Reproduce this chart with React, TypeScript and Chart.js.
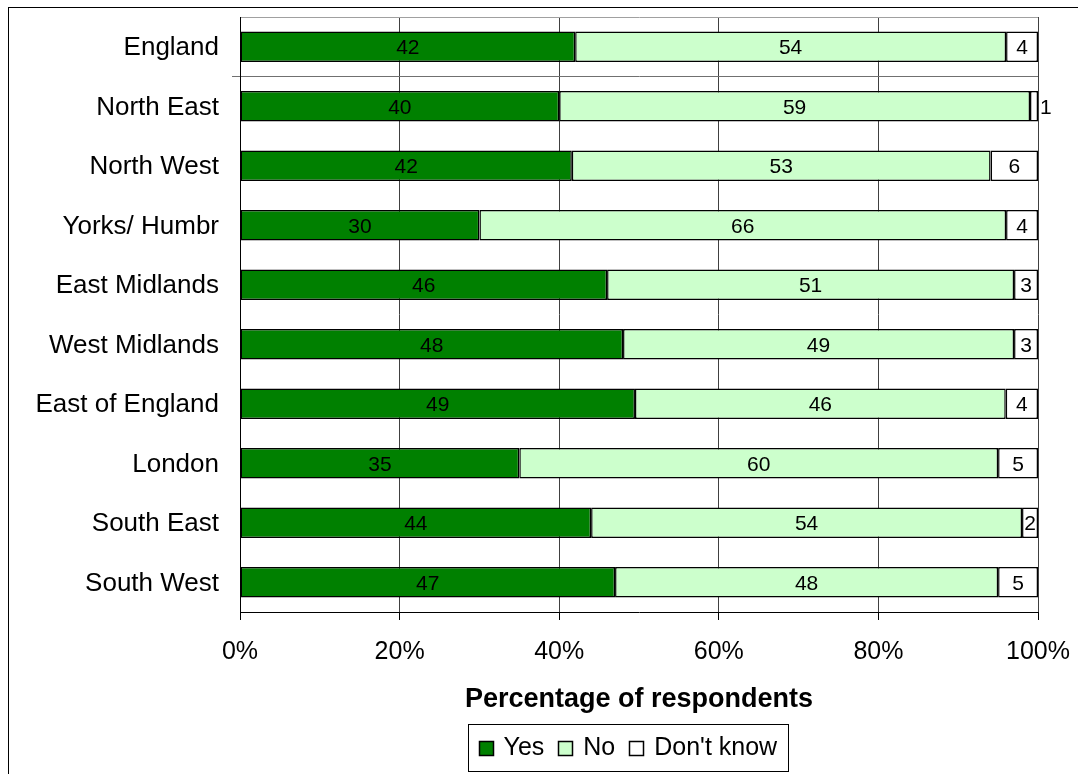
import React, { useEffect, useRef } from "react";
import { Chart, registerables } from "chart.js";

Chart.register(...registerables);

// Survey answers by region (raw percentages as reported)
const regions = [
  "England",
  "North East",
  "North West",
  "Yorks/ Humbr",
  "East Midlands",
  "West Midlands",
  "East of England",
  "London",
  "South East",
  "South West",
];
const yesValues = [42, 40, 42, 30, 46, 48, 49, 35, 44, 47];
const noValues = [54, 59, 53, 66, 51, 49, 46, 60, 54, 48];
const dontKnowValues = [4, 1, 6, 4, 3, 3, 4, 5, 2, 5];

const seriesNames = ["Yes", "No", "Don't know"];
const seriesColors = ["#008000", "#CCFFCC", "#FFFFFF"];

const xMin = 0;
const xMax = 100;
const xStep = 20;
const xTitle = "Percentage of respondents";

const FAMILY = "'Liberation Sans', Arial, Helvetica, sans-serif";

// Each row is shown as a 100% stacked bar, so normalise by the row total.
function toShares(series: number[][]): number[][] {
  return series.map((values) =>
    values.map((v, i) => {
      const total = series.reduce((acc, s) => acc + s[i], 0);
      return (v / total) * 100;
    })
  );
}

// Writes the reported value inside each bar segment.
const segmentLabels = {
  id: "segmentLabels",
  afterDatasetsDraw(chart: any) {
    const ctx = chart.ctx as CanvasRenderingContext2D;
    ctx.save();
    ctx.font = `21px ${FAMILY}`;
    ctx.fillStyle = "#000";
    ctx.textBaseline = "middle";
    chart.data.datasets.forEach((ds: any, di: number) => {
      const meta = chart.getDatasetMeta(di);
      meta.data.forEach((el: any, i: number) => {
        const { x, y, base } = el.getProps(["x", "y", "base"], true);
        const text = String(ds.rawValues[i]);
        const w = Math.abs(x - base);
        if (w < 12) {
          ctx.textAlign = "left";
          ctx.fillText(text, Math.max(x, base) + 2, y + 1.5);
        } else {
          ctx.textAlign = "center";
          ctx.fillText(text, (x + base) / 2, y + 1.5);
        }
      });
    });
    ctx.restore();
  },
};

// Framed legend row below the axis title.
const boxedLegend = {
  id: "boxedLegend",
  afterDraw(chart: any) {
    const ctx = chart.ctx as CanvasRenderingContext2D;
    const area = chart.chartArea;
    const xScale = chart.scales.x;
    ctx.save();
    ctx.font = `25px ${FAMILY}`;
    const sw = 15;
    const gapText = 10;
    const gapItem = 14;
    const padL = 10;
    const padR = 11;
    const h = 47;
    const items = chart.data.datasets.map((ds: any) => ({
      text: ds.label as string,
      color: ds.backgroundColor as string,
      w: ctx.measureText(ds.label).width,
    }));
    const contentW =
      items.reduce((a: number, it: any) => a + sw + gapText + it.w, 0) +
      gapItem * (items.length - 1);
    const boxW = Math.round(padL + contentW + padR);
    const cx = (area.left + area.right) / 2 - 11;
    const left = Math.round(cx - boxW / 2) + 0.5;
    const top = Math.round(xScale.bottom + 11) + 0.5;
    ctx.strokeStyle = "#000";
    ctx.lineWidth = 1;
    ctx.strokeRect(left, top, boxW, h);
    const cy = top + h / 2;
    let x = left + padL;
    ctx.textBaseline = "middle";
    ctx.textAlign = "left";
    items.forEach((it: any) => {
      const sy = Math.round(cy - sw / 2);
      ctx.fillStyle = it.color;
      ctx.fillRect(Math.round(x), sy, sw, sw);
      ctx.lineWidth = 1.5;
      ctx.strokeRect(Math.round(x) + 0.5, sy + 0.5, sw - 1, sw - 1);
      ctx.fillStyle = "#000";
      ctx.fillText(it.text, x + sw + gapText, cy);
      x += sw + gapText + it.w + gapItem;
    });
    ctx.restore();
  },
};

export default function App() {
  const canvasRef = useRef<HTMLCanvasElement | null>(null);

  useEffect(() => {
    if (!canvasRef.current) return;
    const raw = [yesValues, noValues, dontKnowValues];
    const shares = toShares(raw);
    const lastLine = regions.length;

    const chart = new Chart(canvasRef.current, {
      type: "bar",
      data: {
        labels: regions,
        datasets: seriesNames.map((name, k) => ({
          label: name,
          data: shares[k],
          rawValues: raw[k],
          backgroundColor: seriesColors[k],
          borderColor: "#000",
          borderWidth: 1.5,
          borderSkipped: false,
          barPercentage: 0.51,
          categoryPercentage: 1,
        })) as any,
      },
      options: {
        indexAxis: "y",
        responsive: false,
        devicePixelRatio: 1,
        animation: false,
        layout: { padding: { top: 9, right: 40, bottom: 61, left: 0 } },
        plugins: {
          legend: { display: false },
          tooltip: { enabled: false },
        },
        scales: {
          x: {
            stacked: true,
            min: xMin,
            max: xMax,
            ticks: {
              stepSize: xStep,
              callback: (v: any) => `${v}%`,
              font: { size: 25, family: FAMILY },
              color: "#000",
              padding: 17,
            },
            grid: {
              color: "#404040",
              lineWidth: 1,
              drawTicks: true,
              tickLength: 8,
              tickColor: "#000",
            },
            border: { display: true, color: "#000", width: 1 },
            title: {
              display: true,
              text: xTitle,
              color: "#000",
              font: { size: 27, weight: "bold", family: FAMILY, lineHeight: 1 },
              padding: { top: 2, bottom: 0 },
            },
            afterFit: (scale: any) => {
              scale.paddingLeft = 0;
              scale.paddingRight = 0;
            },
          },
          y: {
            stacked: true,
            ticks: {
              font: { size: 26, family: FAMILY },
              color: "#000",
              padding: 13,
              labelOffset: 1.5,
            },
            grid: {
              offset: true,
              drawTicks: true,
              tickLength: 8,
              lineWidth: 1,
              color: (c: any) =>
                c.index === 0
                  ? "#a0a0a0"
                  : c.index === 1
                  ? "#707070"
                  : c.index === lastLine
                  ? "#000"
                  : "rgba(0,0,0,0)",
              tickColor: (c: any) =>
                c.index === 1
                  ? "#707070"
                  : c.index === lastLine
                  ? "#000"
                  : "rgba(0,0,0,0)",
            },
            border: { display: true, color: "#000", width: 1 },
            afterFit: (scale: any) => {
              scale.width = 231;
              scale.paddingTop = 0;
              scale.paddingBottom = 0;
            },
          },
        },
      } as any,
      plugins: [segmentLabels, boxedLegend],
    });

    return () => chart.destroy();
  }, []);

  return (
    <div
      style={{
        position: "absolute",
        left: 8,
        top: 7,
        width: 1069,
        height: 766,
        borderTop: "1px solid #000",
        borderLeft: "1px solid #000",
        overflow: "hidden",
      }}
    >
      <canvas ref={canvasRef} width={1069} height={766} style={{ display: "block" }} />
    </div>
  );
}
